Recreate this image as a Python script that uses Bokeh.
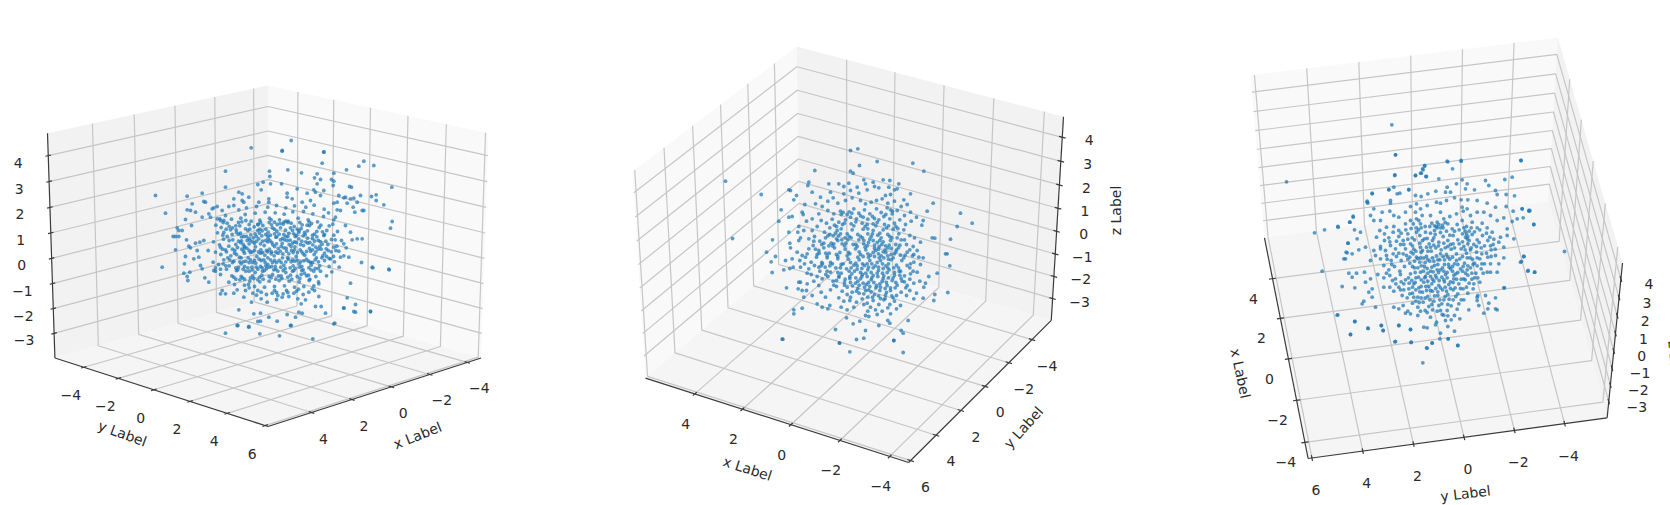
import numpy as np
from bokeh.plotting import figure
from bokeh.embed import file_html
from bokeh.resources import INLINE
from bokeh.core.properties import value

x_ticks = [-4, -2, 0, 2, 4]
y_ticks = [-4, -2, 0, 2, 4, 6]
z_ticks = [-3, -2, -1, 0, 1, 2, 3, 4]
xlim = (-4.75, 6.1)
ylim = (-5.7, 6.15)
zlim = (-4.0, 4.85)
minus = "\u2212"

# scatter, view by view: (column, row) as read in 3x crops of the picture
view1_outer = [(465,405),(495,458),(485,620),(872,240),(752,262),(845,270),(970,274),(675,818),(712,795),(745,798),(778,820),(837,826),(937,835),(872,795),(1003,788),(1117,622),(1166,628),(1110,753),(1065,755),(1030,743)]
view1_core = [(335,2),(460,5),(455,38),(580,32),(565,47),(610,45),(528,58),(165,62),(297,62),(352,58),(393,67),(440,70),(490,68),(298,78),(432,82),(450,87),(483,87),(490,92),(278,95),(262,102),(300,100),(333,100),(440,100),(488,105),(165,110),(205,125),(215,130),(50,137),(95,128),(272,118),(350,128),(380,115),(410,128),(430,118),(435,125),(460,120),(537,108),(543,110),(664,110),(570,135),(617,133),(603,138),(617,150),(640,163),(550,143),(540,145),(525,140),(520,142),(505,135),(490,158),(500,155),(450,135),(420,150),(395,155),(365,145),(350,140),(295,145),(295,155),(265,155),(235,140),(190,145),(215,150),(220,155),(100,153),(105,155),(65,160),(140,168),(130,172),(125,175),(190,165),(175,168),(75,185),(50,178),(60,180),(120,200),(115,190),(155,180),(165,195),(140,205),(150,210),(160,210),(95,200),(45,207),(20,232),(25,240),(35,240),(63,225),(15,258),(8,258),(25,258),(48,268),(100,270),(88,275),(75,278),(55,287),(60,292),(15,298),(80,300),(113,300),(85,320),(45,318),(70,325),(42,340),(90,345),(95,355),(40,368),(58,365),(50,378),(52,390),(103,382),(115,395),(130,360),(135,352),(155,420),(150,430),(165,430),(190,428),(205,478),(250,490),(270,488),(262,513),(270,512),(200,525),(235,530),(295,500),(320,512),(350,492),(375,500),(360,525),(395,488),(385,485),(435,468),(452,468),(465,488),(490,520),(520,472),(555,462),(550,483),(600,483),(530,442),(540,398),(655,356),(605,350),(573,336),(535,320),(510,320),(480,325),(575,265),(560,265),(545,268),(520,280),(540,245),(525,225),(665,213),(660,233),(575,180),(580,180),(553,185),(548,170),(510,180),(500,178),(495,200),(490,208),(530,158),(560,155),
(148,205),(158,216),(136,224),(152,231),(170,218),(183,206),(196,226),(211,203),(224,192),(242,212),(254,188),(268,209),(284,185),(297,203),(314,187),(327,208),(341,191),(353,212),(367,184),(383,203),(399,183),(413,208),(427,190),(441,214),(459,198),(474,187),(205,178),(228,172),(258,168),(292,170),(318,165),(346,172),(372,166),(406,170),(431,164),(461,176),
(141,247),(157,254),(167,236),(185,252),(197,238),(213,259),(225,235),(241,253),(251,229),(267,248),(277,225),(293,245),(303,223),(319,243),(329,219),(345,239),(355,249),(371,228),(385,246),(395,223),(411,241),(423,219),(439,243),(451,224),(469,240),(487,221),(501,243),(176,228),(208,226),(236,222),(263,222),(312,215),(338,221),(362,218),(388,216),(417,225),(446,231),(476,226),
(129,274),(147,283),(159,266),(175,287),(187,268),(201,291),(213,271),(229,293),(239,270),(255,289),(265,265),(281,285),(293,263),(307,283),(319,259),(335,279),(347,293),(359,269),(373,289),(385,265),(399,285),(411,263),(427,283),(439,259),(455,281),(467,295),(483,267),(499,287),(220,258),(248,262),(274,256),(300,254),(326,251),(352,258),(378,255),(404,252),(432,251),(460,255),(513,270),(527,292),
(135,305),(151,312),(165,298),(181,316),(193,300),(207,320),(219,302),(233,322),(245,304),(259,318),(271,298),(283,314),(297,296),(311,316),(323,294),(337,310),(351,322),(363,300),(377,318),(389,298),(403,314),(417,294),(431,312),(443,296),(457,316),(473,300),(489,318),(505,302),(520,316),(196,282),(222,308),(252,300),(276,306),(303,304),(329,302),(355,310),(381,306),(408,303),(436,304),(462,308),(482,304),
(128,335),(144,342),(160,328),(176,346),(190,332),(204,350),(218,334),(232,352),(246,336),(258,350),(272,330),(286,346),(300,328),(314,348),(326,330),(340,344),(354,326),(368,346),(380,330),(394,348),(408,326),(422,344),(434,328),(448,346),(462,330),(476,348),(492,334),(506,350),(212,322),(240,328),(266,326),(292,322),(318,336),(346,334),(372,332),(400,331),(426,336),(454,322),
(135,362),(150,372),(168,356),(184,376),(198,360),(212,378),(226,362),(240,382),(254,366),(268,380),(282,360),(296,378),(310,358),(324,376),(338,360),(352,380),(366,362),(380,378),(394,360),(408,376),(422,358),(436,378),(450,362),(468,376),(484,364),(245,358),(275,352),(303,348),(331,350),(359,352),(387,350),(415,352),(443,354),
(175,395),(192,402),(208,388),(222,404),(238,392),(252,408),(268,394),(282,410),(296,392),(312,408),(326,390),(342,406),(356,392),(372,410),(386,394),(400,408),(416,390),(430,406),(444,394),(200,418),(225,420),(247,428),(272,425),(288,432),(305,428),(322,435),(338,430),(355,438),(370,428),(398,432),(415,425),(432,420),(445,438),(445,400),(405,448),(392,460),(382,445),(335,440),(318,447),(290,455),(272,445),(243,455),(220,440)]
view1_dense = [(198,246),(204,251),(210,248),(232,240),(238,236),(262,240),(268,236),(275,241),(286,236),(306,232),(312,236),(340,215),(346,212),(352,216),(380,236),(386,240),(392,234),(204,272),(210,276),(218,282),(222,288),(246,274),(252,278),(258,272),(286,270),(292,274),(298,270),(304,276),(330,268),(336,264),(342,268),(350,270),(366,278),(372,274),(378,276),(406,274),(412,278),(418,276),(444,270),(450,274),(186,296),(192,308),(198,312),(214,296),(222,292),(236,300),(240,306),(264,304),(270,308),(288,300),(292,304),(302,310),(316,304),(322,308),(332,288),(340,292),(348,302),(368,306),(372,298),(394,304),(398,310),(420,302),(426,298),(448,288),(452,296),(172,322),(178,328),(186,336),(208,334),(212,340),(226,332),(236,336),(252,330),(256,338),(280,328),(284,336),(292,342),(306,336),(312,330),(332,336),(336,322),(362,334),(366,328),(386,340),(390,334),(414,332),(420,336),(438,322),(444,334),(468,318),(476,324),(196,352),(202,358),(218,356),(222,348),(236,362),(244,350),(262,356),(270,348),(276,362),(288,354),(296,350),(316,356),(322,362),(344,354),(346,366),(370,360),(374,354),(398,358),(402,368),(430,362),(434,354),(190,380),(196,386),(216,382),(222,386),(246,376),(250,384),(262,388),(274,374),(278,386),(302,382),(306,372),(316,386),(332,376),(334,384),(360,374),(364,386),(388,384),(392,372),(414,374),(418,386),(150,290),(156,296),(168,304),(158,340),(166,346),(150,356),(230,270),(236,280),(270,280),(276,272),(312,288),(318,280),(356,282),(362,288),(390,282),(394,272),(432,272),(436,290),(466,272),(472,282),(228,258),(236,264),(254,250),(258,258),(286,252),(292,256),(312,250),(316,260),(340,252),(346,258),(370,250),(374,258),(398,256),(402,246),(426,254),(426,264),(262,222),(270,216),(296,216),(302,208),(320,222),(330,232),(360,232),(366,240),(410,224),(416,214),(204,216),(214,214),(226,210),(180,238),(186,232),(160,246),(170,258),(176,270),(456,244),(462,252),(490,254),(494,268),(490,290),(496,300),(258,434),(262,420),(312,420),(318,426),(348,420),(352,426),(378,422),(384,416),(425,415),(234,402),(236,412)]

view2_outer = [(375,452),(396,624),(1115,578),(772,355),(750,360),(748,964),(908,966),(545,926),(717,938),(880,930)]
view2_core = [(193,60),(327,45),(380,33),(487,38),(520,62),(300,62),(308,68),(32,132),(115,118),(120,120),(175,95),(172,105),(235,100),(185,125),(240,125),(138,135),(130,148),(163,162),(92,178),(155,185),(85,212),(115,200),(125,198),(630,188),(620,228),(548,158),(530,182),(518,210),(514,224),(66,268),(48,305),(75,318),(62,334),(65,366),(100,358),(118,354),(108,412),(143,415),(155,420),(160,440),(200,460),(130,478),(155,473),(130,490),(97,566),(255,537),(267,577),(318,567),(340,563),(345,540),(430,570),(452,540),(458,548),(473,510),(592,426),(553,432),(518,443),(550,450),(525,398),(560,368),(535,378),(598,346),(585,310),(590,310),(545,262),(553,263),(600,266),(505,320),(518,322),(490,312),(480,340),
(265,100),(280,108),(295,98),(320,110),(340,88),(345,100),(368,95),(385,112),(398,88),(415,110),(432,118),(445,100),(418,90),(280,130),(300,120),(325,128),(350,118),(372,108),(405,135),(420,132),(440,115),(480,130),(460,148),(210,140),(232,152),(248,142),(262,158),(285,150),(305,142),(330,150),(345,160),(362,155),(378,150),(395,145),(412,158),(432,152),(452,168),(470,162),(195,160),(215,168),(158,192),(205,190),(232,180),(250,190),(270,182),(290,192),(310,175),(325,188),(342,178),(358,190),(378,175),(392,186),(410,172),(425,190),(440,180),(462,195),(480,185),(498,200),(168,212),(185,205),(212,210),(228,218),(245,206),(265,215),(285,208),(302,220),(318,205),(335,218),(352,206),(368,220),(385,208),(402,222),(418,205),(432,218),(448,208),(465,222),(482,212),(145,228),(115,245),(142,245),(160,240),(185,240),(200,228),(222,245),(238,232),(255,248),(272,235),(290,250),(305,238),(322,252),(338,236),(352,250),(368,240),(382,254),(398,238),(412,252),(428,236),(445,250),(460,238),(478,255),(492,262),(510,275),(145,270),(118,278),(150,262),(175,265),(192,258),(208,272),(225,262),(242,278),(258,265),(275,280),(292,268),(308,282),(325,268),(340,280),(358,266),(372,284),(388,270),(405,286),(420,270),(436,282),(452,268),(468,282),(488,288),(120,292),(140,305),(155,315),(175,295),(188,285),(205,300),(220,292),(236,308),(252,292),(268,306),(284,296),(298,310),(315,295),(330,312),(346,298),(360,314),(376,300),(392,316),(404,298),(422,312),(438,298),(450,314),(470,305),(105,330),(125,325),(148,330),(165,320),(182,335),(198,320),(214,336),(230,322),(246,340),(262,325),(278,340),(294,326),(310,344),(326,328),(342,345),(358,330),(374,346),(390,330),(406,346),(422,328),(438,344),(454,330),(470,345),(490,335),(510,342),(128,350),(150,350),(175,355),(192,345),(208,362),(224,350),(240,365),(256,352),(272,368),(288,355),(304,370),(320,356),(336,372),(352,358),(368,375),(384,360),(400,376),(416,358),(432,374),(450,362),(462,376),(480,370),(500,365),(215,385),(232,378),(248,392),(265,380),(282,395),(298,384),(315,398),(330,385),(348,402),(362,388),(378,405),(395,392),(410,405),(425,390),(440,404),(455,392),(470,405),(490,398),(508,392),(150,395),(170,400),(145,395),(190,392),(205,405),(240,418),(258,408),(275,422),(290,410),(305,425),(322,414),(340,430),(355,418),(372,432),(388,420),(405,434),(420,420),(438,435),(452,425),(478,420),(498,428),(520,410),(168,420),(185,435),(212,425),(225,440),(265,442),(280,452),(300,440),(318,455),(335,445),(350,458),(368,450),(385,462),(400,448),(418,462),(432,452),(450,465),(468,435),(490,445),(215,470),(232,475),(238,465),(272,470),(290,478),(310,470),(352,482),(375,478),(395,482),(412,472),(420,490),(438,475),(345,495),(355,498),(412,510),(418,518),(288,502),(308,520),(328,512),(385,525)]
view2_dense = [(272,192),(278,186),(296,184),(304,188),(330,196),(338,200),(366,198),(372,204),(400,198),(406,192),(420,178),(426,182),(252,224),(258,228),(276,222),(282,218),(310,226),(316,214),(344,228),(350,222),(376,226),(380,216),(408,232),(414,226),(436,228),(442,234),(232,256),(238,252),(264,256),(270,250),(296,258),(302,262),(330,258),(336,262),(362,258),(366,250),(388,248),(392,262),(418,258),(424,262),(214,282),(220,278),(246,286),(250,280),(282,286),(286,278),(316,282),(320,288),(350,286),(354,276),(380,276),(386,288),(394,282),(412,292),(416,284),(444,292),(448,284),(200,312),(206,308),(226,308),(230,316),(258,312),(262,318),(290,316),(294,306),(322,320),(326,304),(338,318),(352,310),(354,320),(368,306),(372,318),(384,310),(386,322),(398,304),(400,322),(412,316),(414,326),(428,322),(432,310),(460,322),(464,314),(212,346),(216,340),(238,346),(240,336),(270,352),(272,342),(300,336),(302,352),(316,338),(320,346),(334,354),(336,340),(350,340),(354,350),(364,340),(368,352),(380,336),(384,350),(396,340),(398,354),(412,352),(414,340),(430,352),(444,352),(446,362),(226,372),(230,362),(262,366),(266,376),(296,362),(298,378),(312,362),(316,382),(330,366),(334,378),(346,368),(350,378),(362,366),(364,382),(380,368),(382,378),(396,368),(398,384),(410,366),(414,382),(428,382),(432,366),(448,374),(452,384),(282,404),(284,386),(300,396),(306,406),(322,392),(326,404),(338,398),(342,410),(354,396),(358,408),(370,396),(376,412),(388,400),(390,410),(404,414),(408,396),(420,412),(434,412),(436,396),(462,394),(466,412),(318,422),(326,428),(346,420),(352,440),(362,424),(366,440),(384,436),(390,444),(404,444),(408,426),(424,436),(428,442),(190,272),(195,296),(170,310),(162,340),(170,368),(182,372),(200,378),(205,350),(250,404),(258,390),(290,432),(298,450),(340,462),(360,470),(380,492),(235,286),(260,240),(300,200),(352,235),(440,262),(462,268),(478,298),(486,316),(500,300),(478,352),(488,362),(478,386),(262,270),(248,256),(274,268),(284,262),(340,270),(344,290),(368,270),(398,274),(372,294),(384,296),(406,306),(422,294),(436,304)]

view3_outer = [(574,313),(585,403),(258,484),(962,420),(782,422),(742,424),(756,445),(672,437),(668,448),(645,465),(660,458),(676,468),(583,465),(1092,693),(342,637),(372,628),(413,620),(365,752),(410,884),(450,942),(463,903),(503,924),(543,915),(548,930),(595,915),(630,927),(583,964),(632,966),(695,968),(680,983),(743,955),(772,975),(667,1027),(1003,755),(983,750),(963,723),(970,708),(1000,612),(965,565),(985,570),(912,802),(885,832),(890,868),(850,878),(865,848),(430,715),(437,695),(443,668),(458,590),(448,605),(500,545),(515,520),(565,507),(590,520),(625,508)]
view3_core = [(195,43),(350,62),(392,60),(571,60),(283,75),(276,85),(255,105),(273,98),(193,103),(288,108),(325,115),(395,118),(465,120),(523,117),(545,110),(475,135),(410,130),(378,130),(350,140),(190,140),(175,148),(208,158),(235,147),(125,158),(110,182),(112,188),(180,188),(272,168),(292,160),(316,152),(345,155),(360,155),(405,145),(432,148),(495,150),(500,162),(527,162),(552,166),(130,205),(120,225),(68,227),(58,245),(22,258),(130,240),(150,240),(155,215),(178,212),(190,225),(205,230),(225,215),(240,198),(258,190),(270,205),(290,195),(318,185),(330,188),(348,180),(372,172),(392,178),(412,178),(440,180),(470,188),(495,200),(527,198),(548,212),(575,205),(598,210),(578,232),(560,235),(545,243),(610,252),(596,212),(72,268),(90,275),(80,295),(52,308),(85,328),(105,320),(50,337),(65,340),(45,355),(120,360),(130,330),(150,325),(138,290),(168,260),(190,258),(205,270),(225,250),(240,240),(258,235),(275,225),(300,225),(320,245),(340,235),(358,228),(378,220),(398,212),(420,225),(440,215),(460,215),(480,225),(500,240),(520,232),(530,265),(510,290),(530,285),(550,295),(520,320),(580,348),(570,365),(592,392),(612,395),(495,345),(505,370),(520,352),(480,370),(55,398),(65,410),(78,398),(35,438),(73,442),(102,395),(120,415),(105,425),(125,445),(115,455),(125,470),(95,490),(100,482),(135,500),(22,523),(73,543),(112,563),(60,582),(152,555),(158,570),(205,555),(240,567),(280,560),(290,562),(315,553),(330,578),(372,572),(353,595),(305,607),(288,622),(242,605),(195,603),(382,615),(328,595),(445,495),(472,505),(495,505),(442,465),(465,465),(520,442),(480,395),(500,395),(440,470),
(148,270),(162,280),(175,292),(188,275),(205,288),(218,300),(232,280),(245,292),(258,275),(272,262),(285,275),(298,258),(312,270),(325,252),(338,262),(352,250),(365,265),(380,252),(395,240),(408,258),(425,245),(440,262),(455,248),(470,262),(485,275),(150,318),(165,330),(180,315),(195,325),(210,312),(225,325),(240,310),(252,298),(268,308),(282,295),(296,310),(310,292),(325,305),(338,288),(352,300),(368,285),(382,298),(396,280),(410,295),(425,282),(440,298),(456,285),(472,300),(488,312),(505,305),(135,345),(150,355),(168,345),(182,360),(198,348),(212,360),(228,345),(242,335),(258,350),(272,335),(288,348),(302,332),(318,346),(332,328),(348,342),(362,326),(378,340),(392,325),(408,338),(422,322),(438,335),(452,322),(468,338),(482,328),(160,375),(175,388),(192,378),(208,392),(222,378),(238,368),(252,382),(268,365),(282,378),(298,362),(312,375),(328,358),(342,372),(358,356),(372,370),(388,355),(402,368),(418,352),(432,368),(448,355),(462,370),(142,402),(160,412),(178,405),(195,415),(210,402),(225,418),(240,400),(256,412),(270,395),(285,408),(300,392),(315,405),(330,388),(345,402),(360,385),(376,400),(390,385),(405,398),(420,382),(436,398),(452,385),(470,395),(205,440),(220,430),(235,445),(250,430),(265,442),(280,425),(295,438),(310,422),(325,435),(340,418),(355,432),(370,415),(385,430),(400,415),(416,428),(432,412),(448,425),(160,440),(178,440),(190,452),(215,465),(230,472),(246,458),(262,470),(276,455),(292,468),(306,452),(322,465),(336,448),(352,462),(368,448),(382,460),(398,445),(412,458),(428,445),(218,495),(232,512),(246,488),(262,500),(278,485),(295,498),(310,482),(325,495),(340,478),(352,492),(368,478),(385,490),(400,478),(335,522),(350,510),(372,525),(388,535),(345,540),(352,558),(300,530),(318,545),(262,525),(240,520),(225,518),(205,505),(190,500),(415,508),(440,480),(180,180),(255,215),(265,240),(270,250),(318,258),(330,262),(405,290),(412,310),(420,328),(255,165),(330,215),(395,200),(410,205)]
view3_dense = [(248,250),(258,262),(264,268),(304,248),(312,256),(320,262),(330,276),(336,254),(344,246),(400,262),(404,272),(408,280),(412,288),(416,272),(246,316),(250,326),(256,332),(270,320),(276,330),(288,320),(292,332),(300,320),(310,314),(316,322),(324,316),(330,340),(340,308),(344,322),(352,318),(360,312),(368,310),(372,322),(386,310),(396,304),(400,318),(404,328),(416,300),(430,312),(438,318),(446,306),(454,340),(462,316),(232,356),(238,350),(248,340),(252,362),(262,354),(270,352),(280,352),(284,366),(292,358),(306,352),(310,362),(322,358),(322,372),(338,348),(342,358),(352,350),(354,372),(366,350),(366,378),(378,360),(382,372),(396,348),(398,378),(410,352),(412,376),(426,356),(440,352),(440,376),(454,370),(246,378),(254,396),(262,382),(272,376),(278,392),(290,384),(292,398),(304,380),(308,394),(320,388),(324,396),(336,382),(340,392),(350,396),(356,380),(366,392),(370,404),(382,396),(396,392),(410,388),(412,404),(424,398),(428,372),(234,412),(244,420),(254,426),(264,410),(272,418),(282,412),(292,422),(300,408),(306,416),(318,412),(326,420),(334,410),(342,424),(350,412),(360,424),(368,426),(378,416),(392,416),(404,418),(212,424),(220,448),(236,428),(246,440),(256,448),(268,454),(272,438),(286,438),(288,450),(300,450),(304,430),(316,444),(322,454),(330,442),(344,440),(348,452),(360,444),(374,442),(390,444),(408,440),(256,482),(266,486),(272,472),(284,472),(298,478),(304,492),(312,466),(328,478),(334,490),(344,468),(356,476),(362,496),(376,468),(380,506),(392,478),(306,508),(320,512),(330,510),(340,524),(352,526),(362,538),(284,510),(290,516),(270,512),(250,470),(238,460),(210,448),(196,430),(186,420),(168,398),(184,372),(170,356),(188,340),(205,338),(218,340),(220,312),(232,296),(198,302),(178,304),(162,300),(212,278),(226,268),(242,264),(268,285),(284,258),(300,278),(314,282),(348,272),(358,284),(372,272),(386,268),(422,262),(432,274),(448,268),(468,278),(478,290),(490,296),(480,316),(494,326),(472,350),(482,348),(458,398),(442,412),(430,430),(424,416),(276,300),(290,294),(306,300)]

panels = [
 dict(el=20, az=45, box=(47, 488, 85, 426), xo=(12,26), yo=(-13,28), zo=(-30,7),
      labels=[("x Label",417,435,22),("y Label",122,433,-20)],
      points=[(view1_outer,0,60),(view1_core,170,150),(view1_dense,170,150)]),
 dict(el=37, az=120, box=(632,1063,46,462), xo=(-9,30), yo=(15,26), zo=(27,3),
      labels=[("x Label",747,468,-18),("y Label",1023,427,48),("z Label",1115,210,90)],
      points=[(view2_outer,600,30),(view2_core,750,150),(view2_dense,750,150)]),
 dict(el=55, az=170, box=(1250,1622,37,458), xo=(-19,20), yo=(4,32), zo=(28,5),
      labels=[("x Label",1240,373,-78),("y Label",1465,493,7),("z Label",1675,365,-85)],
      points=[(view3_outer,1200,20),(view3_core,1330,140),(view3_dense,1330,140)]),
]

def camera(el, az, dist=10.0):
    el, az = np.radians(el), np.radians(az)
    R = np.array([.5,.5,.5])
    eye = R + dist*np.array([np.cos(el)*np.cos(az), np.cos(el)*np.sin(az), np.sin(el)])
    w = (eye-R)/np.linalg.norm(eye-R)
    u = np.cross([0,0,1.0], w); u /= np.linalg.norm(u)
    v = np.cross(w, u)
    return eye, u, v, w

def raw(P, cam):
    eye,u,v,w = cam
    Q = np.array([(P[0]-xlim[0])/(xlim[1]-xlim[0]), (P[1]-ylim[0])/(ylim[1]-ylim[0]), (P[2]-zlim[0])/(zlim[1]-zlim[0])])-eye
    d = -(w@Q)
    return (u@Q)/d, (v@Q)/d

p = figure(width=1670, height=505, x_range=(0,1670), y_range=(505,0), output_backend="svg",
           toolbar_location=None, min_border=0)
p.axis.visible = False
p.grid.visible = False
p.outline_line_color = None

for cfg in panels:
    cam = camera(cfg["el"], cfg["az"])
    corners = np.array([raw((a,b,c),cam) for a in xlim for b in ylim for c in zlim])
    L,Rr,T,B = cfg["box"]
    sx = (Rr-L)/(corners[:,0].max()-corners[:,0].min())
    sy = (B-T)/(corners[:,1].max()-corners[:,1].min())
    def S(a,b,c):
        r = raw((a,b,c),cam)
        return L+(r[0]-corners[:,0].min())*sx, B-(r[1]-corners[:,1].min())*sy
    az = np.radians(cfg["az"])
    xw = xlim[0] if np.cos(az)>0 else xlim[1]   # wall x
    yw = ylim[0] if np.sin(az)>0 else ylim[1]   # wall y
    xf = xlim[1] if xw==xlim[0] else xlim[0]
    yf = ylim[1] if yw==ylim[0] else ylim[0]
    def poly(pts, color):
        s = [S(*q) for q in pts]
        p.patch([q[0] for q in s],[q[1] for q in s], fill_color=color, line_color=None)
    poly([(xw,ylim[0],zlim[0]),(xw,ylim[1],zlim[0]),(xw,ylim[1],zlim[1]),(xw,ylim[0],zlim[1])], "#f9f9f9")
    poly([(xlim[0],yw,zlim[0]),(xlim[1],yw,zlim[0]),(xlim[1],yw,zlim[1]),(xlim[0],yw,zlim[1])], "#f2f2f2")
    poly([(xlim[0],ylim[0],zlim[0]),(xlim[1],ylim[0],zlim[0]),(xlim[1],ylim[1],zlim[0]),(xlim[0],ylim[1],zlim[0])], "#f5f5f5")
    gx,gy = [],[]
    def seg(*qs):
        s=[S(*q) for q in qs]; gx.append([q[0] for q in s]); gy.append([q[1] for q in s])
    for t in x_ticks:
        seg((t,yf,zlim[0]),(t,yw,zlim[0]),(t,yw,zlim[1]))
    for t in y_ticks:
        seg((xf,t,zlim[0]),(xw,t,zlim[0]),(xw,t,zlim[1]))
    for t in z_ticks:
        seg((xf,yw,t),(xw,yw,t),(xw,yf,t))
    p.multi_line(gx,gy,line_color="#c6c6c6",line_width=1.2)
    ax,ay = [],[]
    def aseg(*qs):
        s=[S(*q) for q in qs]; ax.append([q[0] for q in s]); ay.append([q[1] for q in s])
    aseg((xlim[0],yf,zlim[0]),(xlim[1],yf,zlim[0]))
    aseg((xf,ylim[0],zlim[0]),(xf,ylim[1],zlim[0]))
    aseg((xf,yw,zlim[0]),(xf,yw,zlim[1]))
    dy = 0.012*(ylim[1]-ylim[0])*(1 if yf>yw else -1)
    dx = 0.012*(xlim[1]-xlim[0])*(1 if xf>xw else -1)
    tx,ty,tt=[],[],[]
    def lab(t,pos,off):
        tx.append(pos[0]+off[0]); ty.append(pos[1]+off[1]); tt.append(str(t).replace("-",minus))
    for t in x_ticks:
        aseg((t,yf-dy,zlim[0]),(t,yf+dy,zlim[0])); lab(t,S(t,yf,zlim[0]),cfg["xo"])
    for t in y_ticks:
        aseg((xf-dx,t,zlim[0]),(xf+dx,t,zlim[0])); lab(t,S(xf,t,zlim[0]),cfg["yo"])
    for t in z_ticks:
        aseg((xf-dx,yw,t),(xf+dx,yw,t)); lab(t,S(xf,yw,t),cfg["zo"])
    p.multi_line(ax,ay,line_color="#3a3a3a",line_width=1.2)
    for pts,ox,oy in cfg["points"]:
        p.scatter([ox+q[0]/3 for q in pts],[oy+q[1]/3 for q in pts],size=3.8,fill_color="#1f77b4",fill_alpha=0.72,line_color=None)
    p.text(tx,ty,text=tt,text_font=value("DejaVu Sans"),text_font_size="14px",text_color="#2a2a2a",
           text_align="center",text_baseline="middle")
    for txt,lx,ly,ang in cfg["labels"]:
        p.text([lx],[ly],text=[txt],angle=[np.radians(ang)],text_font=value("DejaVu Sans"),text_font_size="14px",
               text_color="#2a2a2a",text_align="center",text_baseline="middle")

open("out.html","w").write(file_html(p, INLINE))
